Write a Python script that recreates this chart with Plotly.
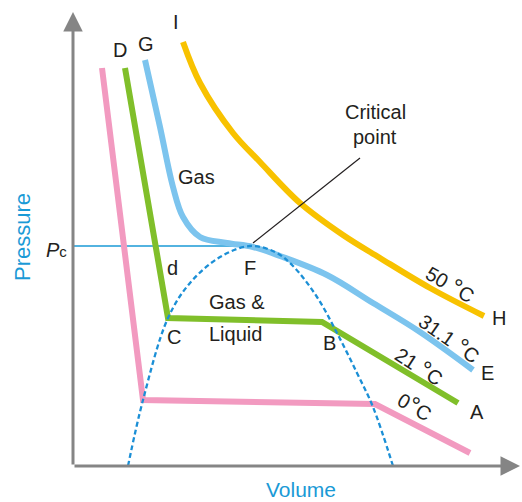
import plotly.graph_objects as go

# Data in arbitrary units: volume (horizontal offset from origin), pressure (height above axis)
# 0 °C isotherm (pink)
v_0c = [29, 70, 302, 397]
p_0c = [398, 66, 62, 13]
# 21 °C isotherm (green)
v_21c = [52, 95, 249, 385]
p_21c = [398, 148, 144, 63]
# 31.1 °C isotherm (blue, critical)
v_31c = [72, 87, 100, 110, 127, 154, 180, 207, 254, 300, 347, 400]
p_31c = [406, 339, 279, 249, 229, 223, 219, 210, 191, 163, 134, 96]
# 50 °C isotherm (yellow)
v_50c = [110, 127, 160, 187, 227, 270, 307, 357, 411]
p_50c = [424, 383, 333, 304, 263, 231, 208, 178, 150]
# Coexistence dome (dashed)
v_dome = [55, 70, 95, 117, 147, 177, 202, 220, 244, 264, 284, 300, 320]
p_dome = [0, 66, 148, 183, 209, 220, 214, 200, 169, 133, 93, 59, 0]
# Critical pressure
p_crit = 220
v_crit = 180

FONT = "Liberation Sans, Arial, sans-serif"
TXT = "#231f20"
BLUE_T = "#1a9ad6"

fig = go.Figure()

def line(x, y, color, width, shape="linear", dash="solid"):
    fig.add_trace(go.Scatter(x=x, y=y, mode="lines",
                             line=dict(color=color, width=width, shape=shape, dash=dash),
                             hoverinfo="skip", showlegend=False))

# Pc horizontal line
line([0, v_crit], [p_crit, p_crit], "#1a9ad6", 1.5)
line(v_0c, p_0c, "#f29ac0", 6)
line(v_21c, p_21c, "#80bf2a", 6)
line(v_31c, p_31c, "#7cc4ee", 6, shape="spline")
line(v_50c, p_50c, "#f8c200", 6, shape="spline")
line(v_dome, p_dome, "#1b8fd6", 2.3, shape="spline", dash="5px,3px")
# critical point leader
line([180, 287], [223, 308], "#231f20", 1.2)

# axes with arrows
fig.add_annotation(x=0, y=454, ax=0, ay=0, xref="x", yref="y", axref="x", ayref="y",
                   showarrow=True, arrowhead=2, arrowsize=1.3, arrowwidth=3,
                   arrowcolor="#858585", text="")
fig.add_annotation(x=447, y=0, ax=0, ay=0, xref="x", yref="y", axref="x", ayref="y",
                   showarrow=True, arrowhead=2, arrowsize=1.3, arrowwidth=3,
                   arrowcolor="#858585", text="")

DEG = "<span style='font-size:24px'>°</span>"

def label(x, y, text, size=20, color=TXT, angle=0):
    fig.add_annotation(x=x, y=y, text=text, showarrow=False, textangle=angle,
                       font=dict(family=FONT, size=size, color=color),
                       xanchor="center", yanchor="middle")

label(103, 444, "I")
label(47, 416, "D")
label(73, 422, "G")
label(123, 289, "Gas")
label(99, 198, "d")
label(177, 198, "F")
label(164, 164, "Gas &")
label(162, 132, "Liquid")
label(101, 129, "C")
label(256, 123, "B")
label(302, 354, "Critical")
label(302, 329, "point")
label(378, 183, "50 " + DEG + "C", angle=30)
label(426, 148, "H")
label(377, 129, "31.1 " + DEG + "C", angle=35)
label(414, 93, "E")
label(347, 101, "21 " + DEG + "C", angle=33)
label(404, 54, "A")
label(342, 61, "0" + DEG + "C", angle=30)
label(-17, 216, "<i>P</i><span style='font-size:15px'>c</span>", size=20)
label(-51, 229, "Pressure", size=22, color=BLUE_T, angle=-90)
label(228, -23, "Volume", size=21, color=BLUE_T)

fig.update_layout(
    width=522, height=502, margin=dict(l=0, r=0, t=0, b=0),
    paper_bgcolor="white", plot_bgcolor="white",
    xaxis=dict(range=[-73, 449], visible=False, fixedrange=True),
    yaxis=dict(range=[-36, 466], visible=False, fixedrange=True),
)

# remove the default page margin so the figure fills the window
fig.write_html("out.html", config={"displayModeBar": False},
               post_script="document.body.style.margin='0';document.body.style.overflow='hidden';")
